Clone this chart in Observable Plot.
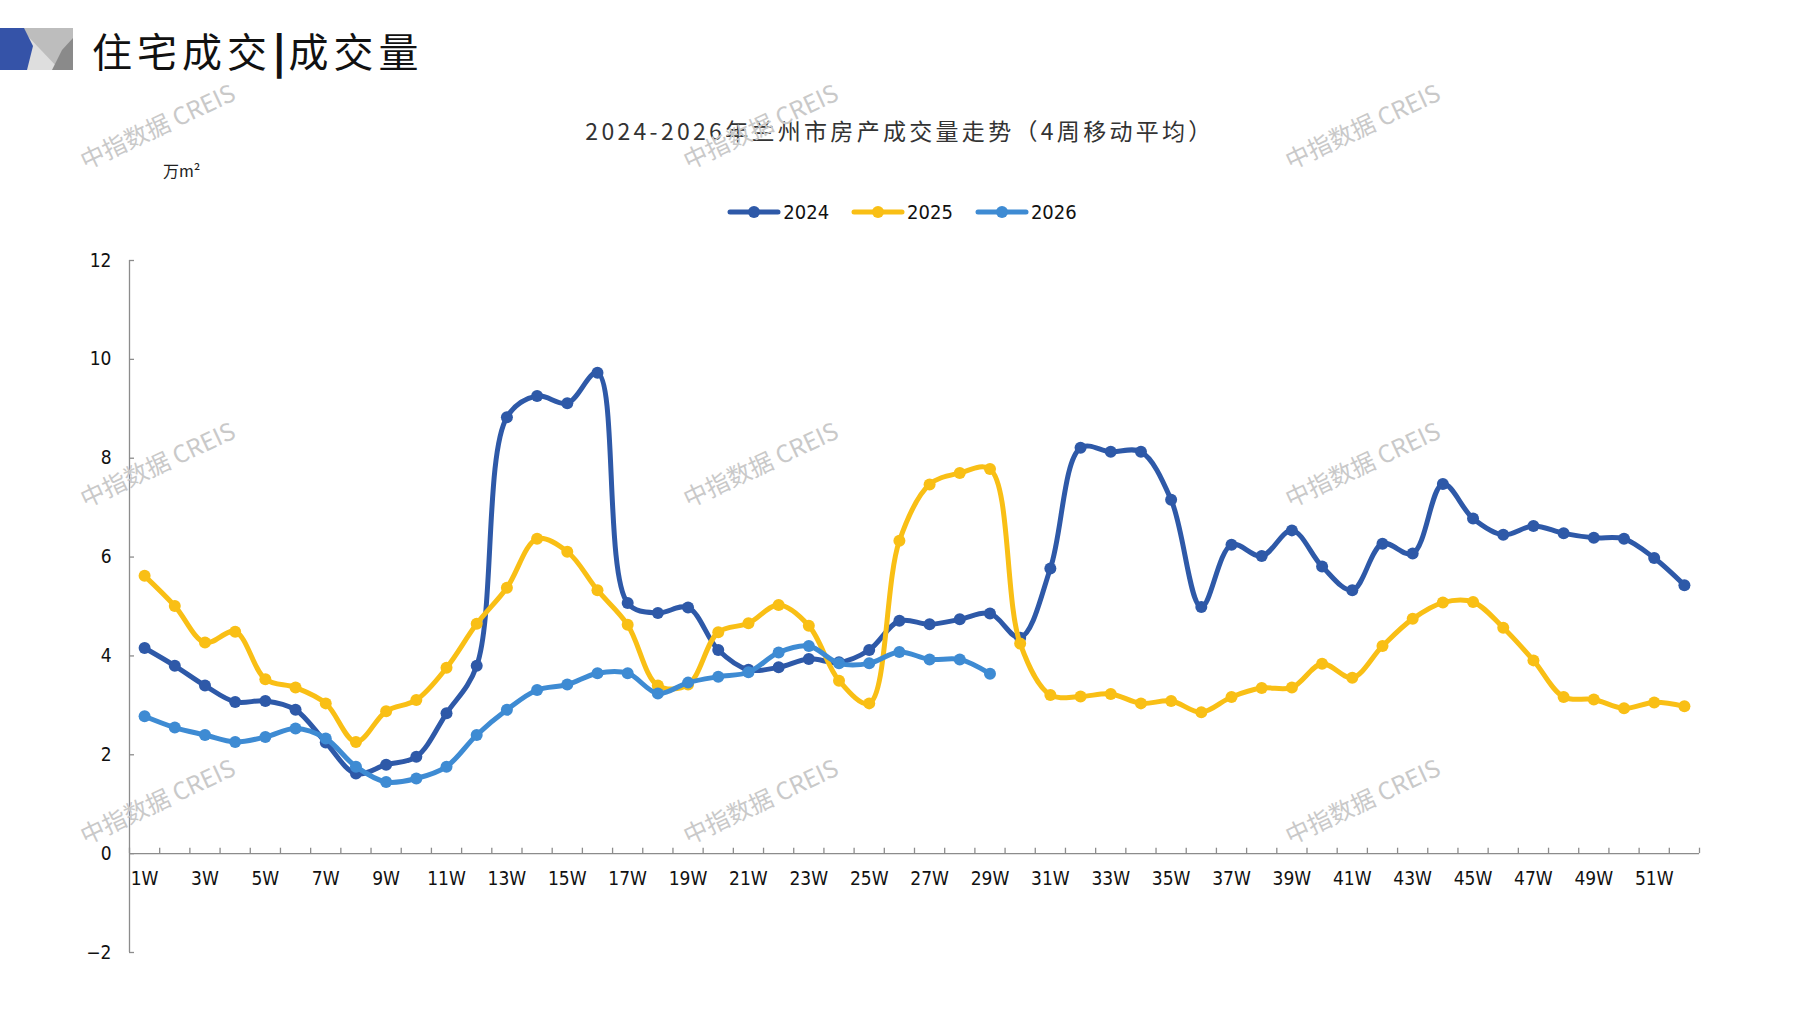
<!DOCTYPE html>
<html>
<head>
<meta charset="utf-8">
<script src="https://cdn.jsdelivr.net/npm/d3@7"></script>
<script src="https://cdn.jsdelivr.net/npm/@observablehq/plot@0.6"></script>
<style>
  html, body { margin: 0; padding: 0; background: #fff; }
  #page { position: relative; width: 1797px; height: 1010px; overflow: hidden; background: #fff;
          font-family: "Noto Sans CJK SC", "Noto Sans", sans-serif; }
  #chart { position: absolute; left: 0; top: 0; }
  .abs { position: absolute; white-space: nowrap; }
  #mainTitle { left: 92px; top: 22px; font-size: 40px; line-height: 56px; letter-spacing: 5px; color: #111; font-weight: 400; }
  #mainTitle b { font-weight: 900; letter-spacing: 2px; margin: 0 1px; }
  #chartTitle { left: 0; width: 1800px; text-align: center; top: 113px; font-size: 23px; line-height: 34px; letter-spacing: 3.3px; color: #333; }
  #unit { left: 163px; top: 158px; font-size: 16px; line-height: 24px; color: #222; }
  #legend { left: 0; width: 1804px; top: 200px; display: flex; justify-content: center; gap: 22px; font-family: "Liberation Sans Narrow", "DejaVu Sans Condensed", "Noto Sans", sans-serif; font-size: 20px; color: #111; }
  #legend .item { display: flex; align-items: center; gap: 2px; }
  .wm { position: absolute; font-family: "Noto Sans CJK SC", "Liberation Sans", sans-serif; font-size: 24px; color: #c9c9c9; transform: translate(-50%, -50%) rotate(-25deg); white-space: nowrap; pointer-events: none; }
</style>
</head>
<body>
<div id="page">
  <div id="chart"></div>
  <svg class="abs" style="left:0;top:28px" width="74" height="43" viewBox="0 0 74 43">
    <rect x="20" y="0" width="53" height="42" fill="#bdbdbd"/>
    <polygon points="20,0 20,42 60,42" fill="#dedede"/>
    <polygon points="73,10 73,42 52,42 62,22" fill="#8a8a8a"/>
    <polygon points="0,0 24,0 33,18 27,42 0,42" fill="#3553a8"/>
  </svg>
  <div id="mainTitle" class="abs">住宅成交<b>|</b>成交量</div>
  <div id="chartTitle" class="abs">2024-2026年兰州市房产成交量走势（4周移动平均）</div>
  <div id="unit" class="abs">万m²</div>
  <div id="legend" class="abs"></div>
</div>
<script>
// ---- data ----
const weeks = d3.range(1, 53);
const weekLabels = weeks.filter(w => w % 2 === 1);
const yTicks = [-2, 0, 2, 4, 6, 8, 10, 12];
const seriesNames = ["2024", "2025", "2026"];
const seriesColors = ["#2e59a8", "#f9bf15", "#3e8bd3"];
const v2024 = [4.16,3.80,3.40,3.07,3.09,2.91,2.25,1.62,1.80,1.96,
               2.84,3.80,8.83,9.26,9.11,9.73,5.07,4.87,4.98,4.12,
               3.72,3.77,3.94,3.87,4.12,4.71,4.64,4.74,4.86,4.37,
               5.77,8.21,8.13,8.13,7.16,4.99,6.25,6.02,6.54,5.81,
               5.33,6.27,6.07,7.48,6.78,6.45,6.63,6.48,6.39,6.37,
               5.98,5.43];
const v2025 = [5.62,5.01,4.27,4.49,3.53,3.36,3.04,2.26,2.88,3.11,
               3.76,4.65,5.38,6.37,6.11,5.33,4.63,3.40,3.42,4.48,
               4.66,5.03,4.61,3.50,3.04,6.33,7.47,7.70,7.78,4.25,
               3.21,3.18,3.23,3.04,3.09,2.86,3.17,3.35,3.36,3.84,
               3.56,4.20,4.75,5.08,5.09,4.57,3.91,3.17,3.12,2.94,
               3.06,2.98];
const v2026 = [2.78,2.55,2.40,2.26,2.36,2.53,2.33,1.76,1.45,1.52,
               1.76,2.40,2.91,3.31,3.42,3.65,3.65,3.24,3.46,3.58,
               3.67,4.07,4.20,3.85,3.85,4.08,3.93,3.93,3.64];
const seriesValues = [v2024, v2025, v2026];

// ---- tidy table ----
const table = seriesNames.map((name, i) =>
  seriesValues[i].map((v, j) => ({series: name, week: weeks[j], value: v, color: seriesColors[i]})));
const boundaries = d3.range(0, 53).map(i => i + 0.5);

const marks = [
  Plot.ruleX([0.5], {y1: -2, y2: 12, stroke: "#8c8c8c", strokeWidth: 1.3}),
  Plot.ruleY(yTicks, {y: d => d, x1: 0.5, x2: 0.5 + 5 / 30.2, stroke: "#8c8c8c", strokeWidth: 1.3}),
  Plot.ruleY([0], {x1: 0.5, x2: 52.5, stroke: "#8c8c8c", strokeWidth: 1.3}),
  Plot.ruleX(boundaries, {x: d => d, y1: 0, y2: 0.11, stroke: "#8c8c8c", strokeWidth: 1.3}),
  Plot.text(weekLabels, {x: d => d, y: 0, dy: 25, text: d => d + "W", fill: "#111"}),
  Plot.axisY({ticks: yTicks, tickSize: 0, tickPadding: 18, label: null, fill: "#111"})
];
table.forEach((rows, i) => {
  marks.push(Plot.line(rows, {x: "week", y: "value", stroke: seriesColors[i], strokeWidth: 5, curve: "catmull-rom"}));
  marks.push(Plot.dot(rows, {x: "week", y: "value", fill: seriesColors[i], r: 6, stroke: "none"}));
});

const chart = Plot.plot({
  width: 1797,
  height: 1010,
  marginLeft: 129,
  marginRight: 98,
  marginTop: 260,
  marginBottom: 58,
  x: {domain: [0.5, 52.5], axis: null},
  y: {domain: [-2, 12], axis: null},
  style: {fontFamily: '"Liberation Sans Narrow", "DejaVu Sans Condensed", "Liberation Sans", sans-serif', fontSize: "19px", color: "#111", background: "transparent", overflow: "visible"},
  marks
});
document.getElementById("chart").appendChild(chart);

// ---- legend ----
const legend = document.getElementById("legend");
seriesNames.forEach((name, i) => {
  const item = document.createElement("div");
  item.className = "item";
  item.innerHTML = `<svg width="54" height="14"><line x1="3" y1="7" x2="51" y2="7" stroke="${seriesColors[i]}" stroke-width="5" stroke-linecap="round"/><circle cx="27" cy="7" r="6" fill="${seriesColors[i]}"/></svg><span>${name}</span>`;
  legend.appendChild(item);
});

// ---- watermarks ----
const page = document.getElementById("page");
[157, 760, 1362].forEach(x => [125, 463, 800].forEach(y => {
  const w = document.createElement("div");
  w.className = "wm";
  w.style.left = x + "px";
  w.style.top = y + "px";
  w.textContent = "中指数据 CREIS";
  page.appendChild(w);
}));
</script>
</body>
</html>
